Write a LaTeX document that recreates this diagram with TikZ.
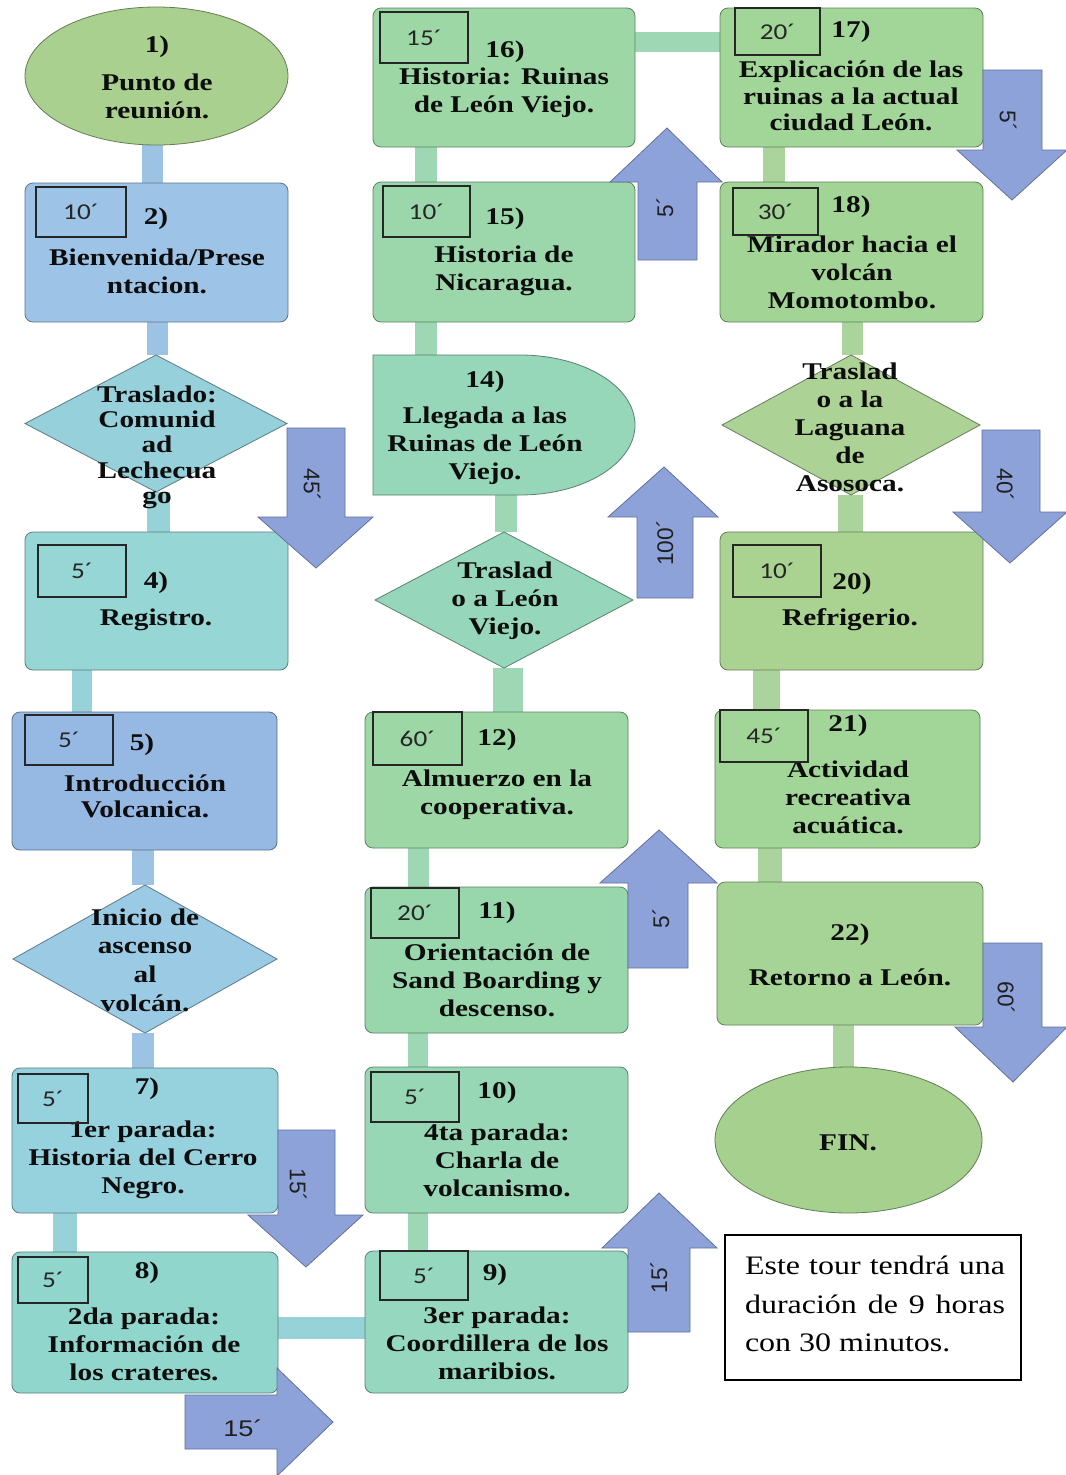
\documentclass[tikz,border=0pt]{standalone}
\usepackage{fontspec}
\setmainfont{Liberation Serif}[FakeStretch=1.22]
\newfontfamily\notefont{Liberation Serif}[FakeStretch=1.2]
\newfontfamily\durfont{Carlito}[FakeStretch=1.2]
\newfontfamily\arrfont{Liberation Sans}
\newfontfamily\arrfonth{Liberation Sans}[FakeStretch=1.2]
\usetikzlibrary{shapes.geometric,backgrounds}

\definecolor{ell1}{RGB}{169,208,142}
\definecolor{ell2}{RGB}{165,208,142}
\definecolor{cb2}{RGB}{157,195,230}
\definecolor{cd3}{RGB}{150,208,218}
\definecolor{cb4}{RGB}{150,214,212}
\definecolor{cb5}{RGB}{150,185,228}
\definecolor{cd6}{RGB}{155,203,228}
\definecolor{cb7}{RGB}{150,210,222}
\definecolor{cb8}{RGB}{145,214,205}
\definecolor{cb9}{RGB}{150,215,192}
\definecolor{cb10}{RGB}{152,215,182}
\definecolor{cb11}{RGB}{152,215,172}
\definecolor{cb12}{RGB}{156,215,165}
\definecolor{cd13}{RGB}{150,215,188}
\definecolor{cs14}{RGB}{150,215,185}
\definecolor{cb15}{RGB}{155,215,170}
\definecolor{cb16}{RGB}{156,215,165}
\definecolor{cb17}{RGB}{162,214,152}
\definecolor{cb18}{RGB}{162,212,150}
\definecolor{cd19}{RGB}{172,210,150}
\definecolor{cb20}{RGB}{170,210,145}
\definecolor{cb21}{RGB}{162,214,152}
\definecolor{cb22}{RGB}{166,212,150}
\definecolor{arr}{RGB}{142,162,218}
\definecolor{cnb}{RGB}{157,195,228}
\definecolor{cnt}{RGB}{150,210,215}
\definecolor{cng}{RGB}{158,215,180}
\definecolor{cng2}{RGB}{170,212,155}

\newcommand\mybox[6]{\node[stepbox=#6, minimum width={(#4-#2)*0.75pt}, minimum height={(#5-#3)*0.75pt}] (#1) at ({(#2+#4)/2},{(#3+#5)/2}) {};}
\newcommand\myell[6]{\node[ellnode=#6, minimum width={(#4-#2)*0.75pt}, minimum height={(#5-#3)*0.75pt}] (#1) at ({(#2+#4)/2},{(#3+#5)/2}) {};}
\newcommand\mydia[6]{\node[dianode=#6, minimum width={(#4-#2)*0.75pt}, minimum height={(#5-#3)*0.75pt}] (#1) at ({(#2+#4)/2},{(#3+#5)/2}) {};}
\newcommand\durbox[6]{\node[durst, minimum width={(#4-#2)*0.75pt}, minimum height={(#5-#3)*0.75pt}] (#1) at ({(#2+#4)/2},{(#3+#5)/2}) {#6};}

\begin{document}
\begin{tikzpicture}[x=0.75pt,y=-0.75pt,
  shp/.style={draw=#1!60!black, fill=#1, line width=0.6pt, inner sep=0pt, outer sep=0pt},
  stepbox/.style={shp=#1, rectangle, rounded corners=6pt},
  ellnode/.style={shp=#1, ellipse},
  dianode/.style={shp=#1, diamond},
  durst/.style={draw=black!85, line width=1.1pt, inner sep=0pt, outer sep=0pt, font=\durfont\fontsize{17}{20}\selectfont, text=black!85},
  lbl/.style={inner sep=0pt, align=center, text=black!95, font=\bfseries\fontsize{18}{21}\selectfont},
  blk/.style={fill=arr, draw=arr!70!black, line width=0.6pt, line join=miter},
  alab/.style={inner sep=0pt, text=black!88, font=\arrfont\fontsize{17}{20}\selectfont},
  conn/.style={draw=#1}
]
\path[use as bounding box] (0,0) rectangle (1065,1475);

% ---------- column 1 ----------
\myell{n1}{25}{7}{288}{145}{ell1}
\mybox{n2}{25}{183}{288}{322}{cb2}
\mydia{n3}{25}{355}{287}{492}{cd3}
\mybox{n4}{25}{532}{288}{670}{cb4}
\mybox{n5}{12}{712}{277}{850}{cb5}
\mydia{n6}{13}{885}{277}{1033}{cd6}
\mybox{n7}{12}{1068}{278}{1213}{cb7}
\mybox{n8}{12}{1252}{278}{1393}{cb8}
% ---------- column 2 ----------
\mybox{n9}{365}{1251}{628}{1393}{cb9}
\mybox{n10}{365}{1067}{628}{1213}{cb10}
\mybox{n11}{365}{887}{628}{1033}{cb11}
\mybox{n12}{365}{712}{628}{848}{cb12}
\mydia{n13}{375}{532}{633}{668}{cd13}
\path[shp=cs14] (373,355) -- (520,355) .. controls (583.5,355) and (635,386.4) .. (635,425) .. controls (635,463.6) and (583.5,495) .. (520,495) -- (373,495) -- cycle;
\node[inner sep=0pt, outer sep=0pt, minimum width={262*0.75pt}, minimum height={140*0.75pt}] (n14) at (504,425) {};
\mybox{n15}{373}{182}{635}{322}{cb15}
\mybox{n16}{373}{8}{635}{147}{cb16}
% ---------- column 3 ----------
\mybox{n17}{720}{8}{983}{147}{cb17}
\mybox{n18}{720}{182}{983}{322}{cb18}
\mydia{n19}{722}{355}{980}{495}{cd19}
\mybox{n20}{720}{532}{983}{670}{cb20}
\mybox{n21}{715}{710}{980}{848}{cb21}
\mybox{n22}{717}{882}{983}{1025}{cb22}
\myell{n23}{715}{1067}{982}{1213}{ell2}

% ---------- texts ----------
\node[lbl] (t1a) at (157,47) {1)};
\node[lbl] (t1b) at (157,96) {Punto de\\reunión.};
\node[lbl] (t2a) at (156,219) {2)};
\node[lbl] (t2b) at (157,271) {Bienvenida/Prese\\ntacion.};
\node[lbl, font=\bfseries\fontsize{18}{19}\selectfont] (t3) at (157,447) {Traslado:\\Comunid\\ad\\Lechecua\\go};
\node[lbl] (t4a) at (156,583) {4)};
\node[lbl] (t4b) at (156,620) {Registro.};
\node[lbl] (t5a) at (142,745) {5)};
\node[lbl, font=\bfseries\fontsize{18}{19.5}\selectfont] (t5b) at (145,796) {Introducción\\Volcanica.};
\node[lbl, font=\bfseries\fontsize{18}{21.5}\selectfont] (t6) at (145,960) {Inicio de\\ascenso\\al\\volcán.};
\node[lbl] (t7a) at (147,1089) {7)};
\node[lbl] (t7b) at (143,1160) {1er parada:\\Historia del Cerro\\Negro.};
\node[lbl] (t8a) at (147,1273) {8)};
\node[lbl] (t8b) at (144,1344) {2da parada:\\Información de\\los crateres.};
\node[lbl] (t9a) at (495,1275) {9)};
\node[lbl] (t9b) at (497,1343) {3er parada:\\Coordillera de los\\maribios.};
\node[lbl] (t10a) at (497,1093) {10)};
\node[lbl] (t10b) at (497,1160) {4ta parada:\\Charla de\\volcanismo.};
\node[lbl] (t11a) at (497,913) {11)};
\node[lbl] (t11b) at (497,980) {Orientación de\\Sand Boarding y\\descenso.};
\node[lbl] (t12a) at (497,740) {12)};
\node[lbl] (t12b) at (497,795) {Almuerzo en la\\cooperativa.};
\node[lbl] (t13) at (505,601) {Traslad\\o a León\\Viejo.};
\node[lbl] (t14a) at (485,382) {14)};
\node[lbl] (t14b) at (485,446) {Llegada a las\\Ruinas de León\\Viejo.};
\node[lbl] (t15a) at (505,219) {15)};
\node[lbl] (t15b) at (504,271) {Historia de\\Nicaragua.};
\node[lbl] (t16a) at (505,52) {16)};
\node[lbl] (t16b) at (504,93) {Historia: Ruinas\\de León Viejo.};
\node[lbl] (t17a) at (851,32) {17)};
\node[lbl, font=\bfseries\fontsize{18}{20}\selectfont] (t17b) at (851,96) {Explicación de las\\ruinas a la actual\\ciudad León.};
\node[lbl] (t18a) at (851,207) {18)};
\node[lbl] (t18b) at (852,272) {Mirador hacia el\\volcán\\Momotombo.};
\node[lbl] (t19) at (850,427) {Traslad\\o a la\\Laguana\\de\\Asosoca.};
\node[lbl] (t20a) at (852,584) {20)};
\node[lbl] (t20b) at (850,620) {Refrigerio.};
\node[lbl] (t21a) at (848,726) {21)};
\node[lbl] (t21b) at (848,797) {Actividad\\recreativa\\acuática.};
\node[lbl] (t22a) at (850,935) {22)};
\node[lbl] (t22b) at (850,977) {Retorno a León.};
\node[lbl] (t23) at (848,1143) {FIN.};

% ---------- duration boxes ----------
\durbox{d2}{36}{187}{126}{237}{10´}
\durbox{d4}{38}{545}{126}{597}{5´}
\durbox{d5}{25}{715}{113}{765}{5´}
\durbox{d7}{18}{1074}{88}{1123}{5´}
\durbox{d8}{18}{1257}{88}{1303}{5´}
\durbox{d9}{380}{1251}{468}{1300}{5´}
\durbox{d10}{371}{1072}{459}{1122}{5´}
\durbox{d11}{371}{888}{459}{938}{20´}
\durbox{d12}{373}{712}{462}{765}{60´}
\durbox{d15}{383}{186}{470}{237}{10´}
\durbox{d16}{380}{12}{468}{63}{15´}
\durbox{d17}{735}{8}{820}{55}{20´}
\durbox{d18}{733}{188}{818}{235}{30´}
\durbox{d20}{733}{545}{821}{597}{10´}
\durbox{d21}{720}{710}{808}{762}{45´}

% ---------- note ----------
\node[draw=black, line width=0.9pt, fill=white, inner sep=0pt, outer sep=0pt, minimum width={296*0.75pt}, minimum height={145*0.75pt}] (note) at (873,1307.5) {};
\node[inner sep=0pt, align=left, font=\notefont\fontsize{20}{29}\selectfont] (notet) at (875,1304) {\makebox[195pt][s]{Este tour tendrá una}\\\makebox[195pt][s]{duración de 9 horas}\\\makebox[195pt][l]{con 30 minutos.}};

% ---------- block arrows ----------
\draw[blk] (287,428) -- (345,428) -- (345,517) -- (373,517) -- (316,568) -- (258,517) -- (287,517) -- cycle;
\draw[blk] (278,1130) -- (335,1130) -- (335,1215) -- (363,1215) -- (306,1267) -- (248,1215) -- (278,1215) -- cycle;
\draw[blk] (983,70) -- (1042,70) -- (1042,150) -- (1067,150) -- (1012,200) -- (957,150) -- (983,150) -- cycle;
\draw[blk] (982,430) -- (1040,430) -- (1040,512) -- (1067,512) -- (1010,563) -- (953,512) -- (982,512) -- cycle;
\draw[blk] (983,943) -- (1042,943) -- (1042,1027) -- (1067,1027) -- (1013,1082) -- (955,1027) -- (983,1027) -- cycle;
\draw[blk] (638,260) -- (697,260) -- (697,182) -- (722,182) -- (667,128) -- (610,182) -- (638,182) -- cycle;
\draw[blk] (637,598) -- (693,598) -- (693,517) -- (718,517) -- (664,467) -- (608,517) -- (637,517) -- cycle;
\draw[blk] (628,968) -- (688,968) -- (688,883) -- (717,883) -- (659,830) -- (600,883) -- (628,883) -- cycle;
\draw[blk] (628,1332) -- (690,1332) -- (690,1248) -- (717,1248) -- (659,1193) -- (602,1248) -- (628,1248) -- cycle;
\draw[blk] (185,1395) -- (277,1395) -- (277,1368) -- (333,1422) -- (277,1476) -- (277,1449) -- (185,1449) -- cycle;

\node[alab, rotate=-90] (l1) at (312,485) {45´};
\node[alab, rotate=-90] (l2) at (298,1185) {15´};
\node[alab, rotate=-90] (l3) at (1008,121) {5´};
\node[alab, rotate=-90] (l4) at (1005,485) {40´};
\node[alab, rotate=-90] (l5) at (1006,998) {60´};
\node[alab, rotate=90] (l6) at (665,207) {5´};
\node[alab, rotate=90] (l7) at (665,543) {100´};
\node[alab, rotate=90] (l8) at (661,918) {5´};
\node[alab, rotate=90] (l9) at (659,1277) {15´};
\node[alab, font=\arrfonth\fontsize{17}{20}\selectfont] (l10) at (243,1428) {15´};

% ---------- connectors (behind) ----------
\coordinate (x12) at (152,0);
\coordinate (x23) at (157,0);
\coordinate (x34) at (158,0);
\coordinate (x45) at (82,0);
\coordinate (x56) at (143,0);
\coordinate (x78) at (65,0);
\coordinate (y89) at (0,1328);
\coordinate (x910) at (418,0);
\coordinate (x1213) at (508,0);
\coordinate (x1314) at (506,0);
\coordinate (x1415) at (426,0);
\coordinate (y1617) at (0,42);
\coordinate (x1718) at (774,0);
\coordinate (x1819) at (852,0);
\coordinate (x1920) at (850,0);
\coordinate (x2021) at (766,0);
\coordinate (x2122) at (770,0);
\coordinate (x2223) at (843,0);
\begin{scope}[on background layer]
\fill[white] (0,0) rectangle (1065,1475);
\draw[conn=cnb, line width={21*0.75pt}] (n1.south -| x12) -- (n2.north -| x12);
\draw[conn=cnb, line width={21*0.75pt}] (n2.south -| x23) -- (n3.north -| x23);
\draw[conn=cnt, line width={23*0.75pt}] (n3.south -| x34) -- (n4.north -| x34);
\draw[conn=cnt, line width={20*0.75pt}] (n4.south -| x45) -- (n5.north -| x45);
\draw[conn=cnb, line width={22*0.75pt}] (n5.south -| x56) -- (n6.north -| x56);
\draw[conn=cnb, line width={22*0.75pt}] (n6.south -| x56) -- (n7.north -| x56);
\draw[conn=cnt, line width={24*0.75pt}] (n7.south -| x78) -- (n8.north -| x78);
\draw[conn=cnt, line width={22*0.75pt}] (n8.east |- y89) -- (n9.west |- y89);
\draw[conn=cng, line width={20*0.75pt}] (n9.north -| x910) -- (n10.south -| x910);
\draw[conn=cng, line width={20*0.75pt}] (n10.north -| x910) -- (n11.south -| x910);
\draw[conn=cng, line width={21*0.75pt}] (n11.north -| x910) -- (n12.south -| x910);
\draw[conn=cng, line width={30*0.75pt}] (n12.north -| x1213) -- (n13.south -| x1213);
\draw[conn=cng, line width={22*0.75pt}] (n13.north -| x1314) -- (n14.south -| x1314);
\draw[conn=cng, line width={22*0.75pt}] (n14.north -| x1415) -- (n15.south -| x1415);
\draw[conn=cng, line width={22*0.75pt}] (n15.north -| x1415) -- (n16.south -| x1415);
\draw[conn=cng, line width={20*0.75pt}] (n16.east |- y1617) -- (n17.west |- y1617);
\draw[conn=cng2, line width={22*0.75pt}] (n17.south -| x1718) -- (n18.north -| x1718);
\draw[conn=cng2, line width={21*0.75pt}] (n18.south -| x1819) -- (n19.north -| x1819);
\draw[conn=cng2, line width={25*0.75pt}] (n19.south -| x1920) -- (n20.north -| x1920);
\draw[conn=cng2, line width={27*0.75pt}] (n20.south -| x2021) -- (n21.north -| x2021);
\draw[conn=cng2, line width={24*0.75pt}] (n21.south -| x2122) -- (n22.north -| x2122);
\draw[conn=cng2, line width={21*0.75pt}] (n22.south -| x2223) -- (n23.north -| x2223);
\end{scope}
\end{tikzpicture}
\end{document}
